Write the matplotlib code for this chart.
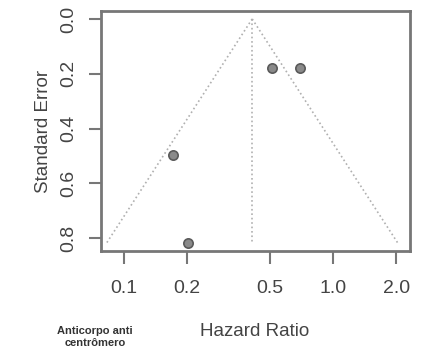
import numpy as np
import matplotlib
matplotlib.use("Agg")
import matplotlib.pyplot as plt

plt.rcParams['font.family'] = ['Liberation Sans', 'DejaVu Sans']

# Data
hazard_ratio = [0.51, 0.695, 0.171, 0.202]
std_error = [0.179, 0.179, 0.497, 0.818]
summary_hr = 0.41
max_se = 0.818
x_ticks = [0.1, 0.2, 0.5, 1.0, 2.0]
x_tick_labels = ["0.1", "0.2", "0.5", "1.0", "2.0"]
y_ticks = [0.0, 0.2, 0.4, 0.6, 0.8]
y_tick_labels = ["0.0", "0.2", "0.4", "0.6", "0.8"]

fig = plt.figure(figsize=(4.22, 3.55), dpi=100)
ax = fig.add_axes([101/422, 1-251/355, (410-101)/422, (251-11)/355])

axis_col = '#777777'
line_col = '#b0b0b0'

# funnel
se_line = np.array([0.0, max_se])
lo = np.exp(np.log(summary_hr) - 1.96*se_line)
hi = np.exp(np.log(summary_hr) + 1.96*se_line)
ax.plot(lo, se_line, linestyle=':', color=line_col, lw=1.2)
ax.plot(hi, se_line, linestyle=':', color=line_col, lw=1.2)
ax.plot([summary_hr, summary_hr], [0.0, max_se], linestyle=':', color=line_col, lw=1.2)

ax.scatter(hazard_ratio, std_error, s=45, facecolor='#8a8a8a', edgecolor='#5a5a5a', linewidth=1.2, zorder=3)

ax.set_xscale('log')
ax.set_xlim(0.0776, 2.33)
ax.set_ylim(0.847, -0.029)
ax.set_xticks(x_ticks)
ax.set_xticklabels(x_tick_labels)
ax.minorticks_off()
ax.set_yticks(y_ticks)
ax.set_yticklabels(y_tick_labels, rotation=90, va='center')

for s in ax.spines.values():
    s.set_color(axis_col)
    s.set_linewidth(2)
ax.tick_params(axis='both', colors=axis_col, labelcolor='#444444', length=9, width=1.5,
               labelsize=14, pad=8)
ax.tick_params(axis='x', pad=12)

ax.set_ylabel("Standard Error", fontsize=13.5, color='#444444', labelpad=6)
fig.text(255/422, 1-332/355, "Hazard Ratio", fontsize=13.5, color='#444444', ha='center', va='center')
fig.text(95/422, 1-337/355, "Anticorpo anti\ncentrômero", fontsize=8, fontweight='bold',
         color='#333333', ha='center', va='center', linespacing=1.25)

fig.savefig("out.png", dpi=100)
